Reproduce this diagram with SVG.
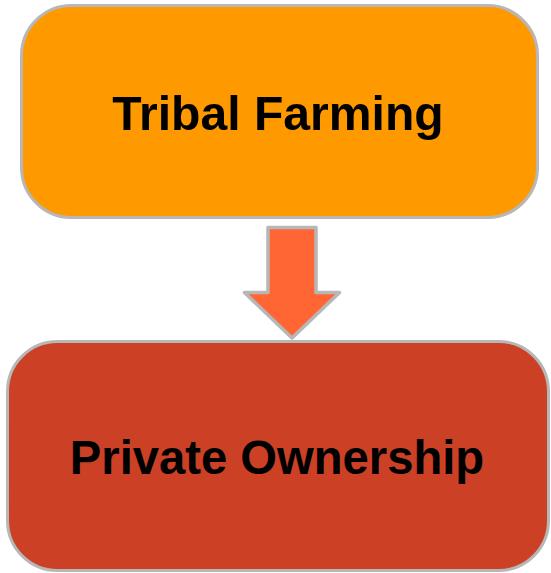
<svg xmlns="http://www.w3.org/2000/svg" width="551" height="573" viewBox="0 0 551 573">
  <style>
    .box { stroke: #b7b7b7; stroke-width: 3; }
    .label { font-family: "Liberation Sans", Arial, sans-serif; font-weight: bold; font-size: 47.2px; fill: #000000; text-anchor: middle; }
  </style>
  <rect width="551" height="573" fill="#ffffff"/>
  <g id="node-tribal-farming">
    <rect class="box" x="21.5" y="5.5" width="516" height="212" rx="50" ry="50" fill="#ff9900"/>
    <text class="label" x="278" y="129.5" style="font-size:48.1px">Tribal Farming</text>
  </g>
  <g id="node-private-ownership">
    <rect class="box" x="7.5" y="341.5" width="541" height="229" rx="50" ry="50" fill="#cc4125"/>
    <text class="label" x="277" y="474">Private Ownership</text>
  </g>
  <g id="connectors">
    <polygon points="268,227.5 316,227.5 316,292.5 339.5,292.5 292,338 244.5,292.5 268,292.5" fill="#ff6633" stroke="#b7b7b7" stroke-width="3.5" stroke-linejoin="round"/>
  </g>
</svg>
